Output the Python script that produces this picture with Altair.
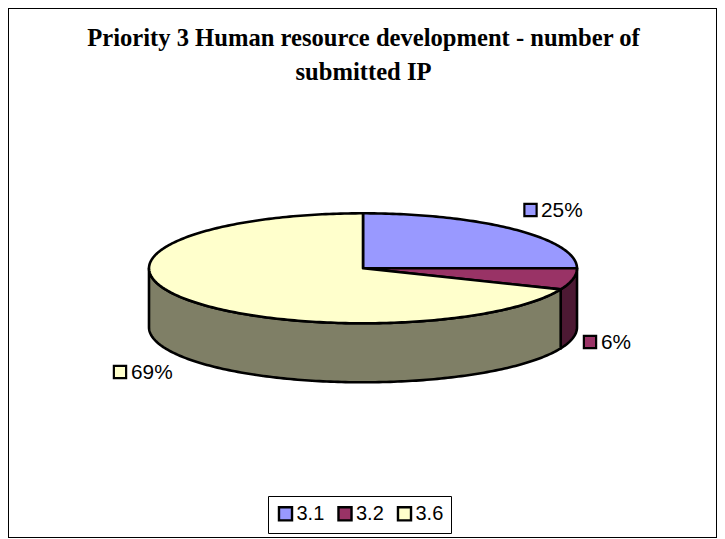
import math
import altair as alt

# ---- data -----------------------------------------------------------------
categories = ["3.1", "3.2", "3.6"]
counts = [4, 1, 11]
top_colors = ["#9999FF", "#993366", "#FFFFCC"]
wall_colors = ["#4C1933", "#4C1933", "#7F7F66"]
title_lines = ["Priority 3 Human resource development - number of", "submitted IP"]

# ---- pie geometry, unit radius ---------------------------------------------
TILT = 55.0 / 214.0
DEPTH = 59.0 / 214.0
STEP = 1.0


def pt(deg, drop=0.0):
    a = math.radians(deg)
    return [math.sin(a), -math.cos(a) * TILT + drop]


def sweep(a, b):
    n = max(2, int(abs(b - a) / STEP) + 1)
    return [a + (b - a) * i / (n - 1) for i in range(n)]


total = sum(counts)
top_features, wall_features = [], []
start = 0.0
for name, value, wall in zip(categories, counts, wall_colors):
    end = start + 360.0 * value / total
    ring = [[0.0, 0.0]] + [pt(d) for d in sweep(start, end)] + [[0.0, 0.0]]
    top_features.append({"type": "Feature",
                         "properties": {"name": name},
                         "geometry": {"type": "Polygon", "coordinates": [ring]}})
    lo, hi = max(start, 90.0), min(end, 270.0)
    if hi > lo:
        arc = sweep(lo, hi)
        w = [pt(d) for d in arc] + [pt(d, DEPTH) for d in reversed(arc)]
        w.append(w[0])
        wall_features.append({"type": "Feature",
                              "properties": {"fill": wall},
                              "geometry": {"type": "Polygon", "coordinates": [w]}})
    start = end

projection = alt.Projection(type="identity", scale=214, translate=[355, 260.3])

walls = alt.Chart(alt.Data(values=wall_features)).mark_geoshape(
    stroke="black", strokeWidth=2.6, strokeJoin="round"
).encode(
    color=alt.Color("properties.fill:N", scale=None, legend=None)
).project(**projection.to_dict())

tops = alt.Chart(alt.Data(values=top_features)).mark_geoshape(
    stroke="black", strokeWidth=2.6, strokeJoin="round"
).encode(
    color=alt.Color(
        "properties.name:N",
        scale=alt.Scale(domain=categories, range=top_colors),
        legend=alt.Legend(
            title=None, orient="none", direction="horizontal", columns=3,
            legendX=260, legendY=488,
            strokeColor="black", fillColor="white", padding=7.5,
            symbolType="square", symbolSize=170, symbolStrokeColor="black",
            symbolStrokeWidth=2.4, symbolOpacity=1,
            labelFont="Liberation Sans", labelFontSize=20, labelColor="black",
            labelOffset=1, columnPadding=8.5,
        ),
    )
).project(**projection.to_dict())

# ---- data labels -----------------------------------------------------------
label_pos = {"3.1": (522.5, 533, 202), "3.2": (582, 593, 334), "3.6": (112, 123, 364)}
shares = [f"{round(100 * c / total)}%" for c in counts]
layers = [walls, tops]
for name, text, fill in zip(categories, shares, top_colors):
    xs, xt, y = label_pos[name]
    row = alt.Data(values=[{"label": text, "name": name}])
    layers.append(alt.Chart(row).mark_square(
        size=150, fill=fill, stroke="black", strokeWidth=2.2, opacity=1
    ).encode(x=alt.value(xs), y=alt.value(y)))
    layers.append(alt.Chart(row).mark_text(
        align="left", baseline="middle", font="Liberation Sans", fontSize=20.8, color="black"
    ).encode(x=alt.value(xt), y=alt.value(y + 1), text="label:N"))

chart = alt.layer(*layers).resolve_scale(color="independent").properties(
    width=709, height=530, padding=0,
    autosize=alt.AutoSizeParams(type="none"),
    title=alt.TitleParams(
        text=title_lines, font="Liberation Serif", fontWeight="bold", fontSize=24.6,
        color="black", anchor="middle", dx=1, offset=-77.5, lineHeight=34,
    ),
).configure_view(stroke="black", strokeWidth=2)

chart.save("out.html", embed_options={"renderer": "svg", "actions": False})
